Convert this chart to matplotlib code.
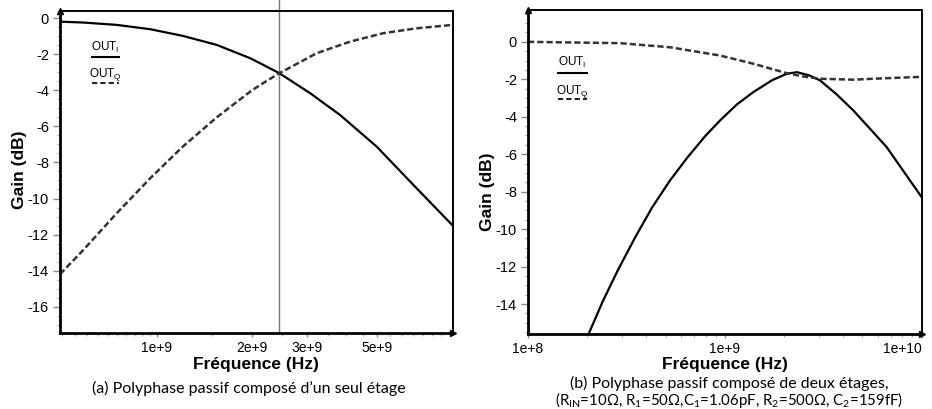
import numpy as np
import matplotlib
matplotlib.use('Agg')
import matplotlib.pyplot as plt
from matplotlib.lines import Line2D
from matplotlib.ticker import FixedLocator, FixedFormatter, LogLocator, NullFormatter, AutoMinorLocator

plt.rcParams['font.family'] = ['Liberation Sans', 'DejaVu Sans']

# (a) single stage polyphase : gain vs frequency
freq_a_i = [4.93e8, 5.85e8, 7.46e8, 9.53e8, 1.21e9, 1.55e9, 1.98e9, 2.13e9, 2.45e9,
            3.07e9, 3.82e9, 4.99e9, 6.53e9, 8.7e9]
gain_a_i = [-0.19, -0.24, -0.37, -0.61, -0.98, -1.48, -2.22, -2.5, -3.05,
            -4.16, -5.37, -7.12, -9.25, -11.5]
freq_a_q = [4.93e8, 5.85e8, 7.46e8, 9.53e8, 1.21e9, 1.55e9, 1.98e9, 2.13e9,
            2.45e9, 3.22e9, 4.11e9, 5.24e9, 6.68e9, 8.7e9]
gain_a_q = [-14.2, -12.85, -10.82, -8.88, -7.12, -5.5, -4.07, -3.7,
            -3.05, -1.94, -1.3, -0.83, -0.56, -0.37]
f_marker_a = 2.45e9
xticks_a = [1e9, 2e9, 3e9, 5e9]
xticklabels_a = ['1e+9', '2e+9', '3e+9', '5e+9']
yticks_a = [0, -2, -4, -6, -8, -10, -12, -14, -16]

# (b) two stage polyphase
freq_b_i = [2.04e8, 2.4e8, 2.86e8, 3.5e8, 4.27e8, 5.27e8, 6.43e8, 7.93e8,
            9.46e8, 1.15e9, 1.39e9, 1.74e9, 2.07e9, 2.33e9, 2.7e9, 3.05e9,
            3.7e9, 4.5e9, 6.64e9, 1e10]
gain_b_i = [-15.56, -13.85, -12.2, -10.45, -8.85, -7.4, -6.2, -5.05,
            -4.2, -3.35, -2.7, -2.05, -1.7, -1.62, -1.8, -2.06,
            -2.8, -3.66, -5.61, -8.28]
freq_b_q = [1e8, 2.93e8, 5.27e8, 9.46e8, 1.4e9, 2.06e9, 2.5e9, 3.05e9,
            4.5e9, 6.64e9, 1e10]
gain_b_q = [0.0, -0.07, -0.29, -0.73, -1.17, -1.67, -1.85, -1.97,
            -2.02, -1.94, -1.87]
xticks_b = [1e8, 1e9, 1e10]
xticklabels_b = ['1e+8', '1e+9', '1e+10']
yticks_b = [0, -2, -4, -6, -8, -10, -12, -14]

W, H = 932, 409


def fx(px):
    return px / W


def fy(py):
    return 1 - py / H


def style_axes(ax):
    for s in ['left', 'bottom']:
        ax.spines[s].set_linewidth(2.0)
    for s in ['top', 'right']:
        ax.spines[s].set_linewidth(1.4)
    ax.tick_params(which='major', direction='out', length=5, width=1,
                   color='#888888', labelsize=10.5, pad=3)
    ax.tick_params(axis='x', which='major', length=3, labelsize=10, pad=3)
    ax.tick_params(which='minor', direction='out', length=2.5, width=0.8,
                   color='#aaaaaa')
    ax.yaxis.set_minor_locator(AutoMinorLocator(4))
    # arrow heads at the end of the axes
    ax.plot(0, 1, marker='^', color='black', markersize=5,
            transform=ax.transAxes, clip_on=False)
    ax.plot(1, 0, marker='>', color='black', markersize=5,
            transform=ax.transAxes, clip_on=False)


def draw_legend(fig, x0, x1, y_i, y_q):
    # text above a short line sample, as in the original
    xc = fx((x0 + x1) / 2)
    fig.text(xc, fy(y_i - 10), r'OUT$_\mathregular{I}$', ha='center',
             va='center', fontsize=8.5)
    fig.add_artist(Line2D([fx(x0), fx(x1)], [fy(y_i), fy(y_i)],
                          color='black', lw=1.5, transform=fig.transFigure))
    fig.text(xc, fy(y_q - 8), r'OUT$_\mathregular{Q}$', ha='center',
             va='center', fontsize=8.5)
    fig.add_artist(Line2D([fx(x0), fx(x1)], [fy(y_q), fy(y_q)],
                          color='#222222', lw=1.5, ls=(0, (2.5, 1.5)),
                          transform=fig.transFigure))


fig = plt.figure(figsize=(W / 100, H / 100), dpi=100)

# ---- panel (a)
ax1 = fig.add_axes([fx(60), fy(333), fx(452.7 - 60), (333 - 11) / H])
ax1.plot(freq_a_i, gain_a_i, color='black', lw=1.6)
ax1.plot(freq_a_q, gain_a_q, color='#333333', lw=1.8, ls=(0, (2.5, 1.2)))
ax1.axvline(f_marker_a, ymin=0, ymax=1.035, color='#777777', lw=1,
            clip_on=False, zorder=0)
ax1.set_xscale('log')
ax1.set_xlim(4.93e8, 8.7e9)
ax1.set_ylim(-17.46, 0.4)
ax1.xaxis.set_major_locator(FixedLocator(xticks_a))
ax1.xaxis.set_major_formatter(FixedFormatter(xticklabels_a))
ax1.xaxis.set_minor_locator(LogLocator(base=10, subs=np.arange(1.0, 10.0, 0.5)))
ax1.xaxis.set_minor_formatter(NullFormatter())
ax1.set_yticks(yticks_a)
ax1.set_yticklabels([str(v) for v in yticks_a])
style_axes(ax1)
ax1.set_ylabel('Gain (dB)', fontsize=12.5, fontweight='bold')
ax1.yaxis.set_label_coords(-0.084, 0.506)
ax1.set_xlabel('Fréquence (Hz)', fontsize=12.5, fontweight='bold')
ax1.xaxis.set_label_coords(0.5, -0.074)

# ---- panel (b)
ax2 = fig.add_axes([fx(528), fy(334), fx(921.5 - 528), (334 - 10) / H])
ax2.plot(freq_b_i, gain_b_i, color='black', lw=1.6)
ax2.plot(freq_b_q, gain_b_q, color='#333333', lw=1.8, ls=(0, (2.5, 1.2)))
ax2.set_xscale('log')
ax2.set_xlim(1e8, 1e10)
ax2.set_ylim(-15.6, 1.7)
ax2.set_xticks(xticks_b, xticklabels_b)
ax2.xaxis.set_minor_locator(LogLocator(base=10, subs=np.arange(2, 10)))
ax2.xaxis.set_minor_formatter(NullFormatter())
ax2.set_yticks(yticks_b)
ax2.set_yticklabels([str(v) for v in yticks_b])
style_axes(ax2)
ax2.get_xticklabels()[-1].set_horizontalalignment('right')
ax2.set_ylabel('Gain (dB)', fontsize=12.5, fontweight='bold')
ax2.yaxis.set_label_coords(-0.084, 0.44)
ax2.set_xlabel('Fréquence (Hz)', fontsize=12.5, fontweight='bold')
ax2.xaxis.set_label_coords(0.5, -0.072)

draw_legend(fig, 92, 119, 57, 83)
draw_legend(fig, 558, 587, 72.7, 99.3)

# captions
cap_font = ['Lato', 'DejaVu Sans']
fig.text(fx(249), fy(388), "(a) Polyphase passif composé d’un seul étage",
         ha='center', va='center', fontsize=11.5, family=cap_font)
fig.text(fx(729), fy(383), "(b) Polyphase passif composé de deux étages,",
         ha='center', va='center', fontsize=11.5, family=cap_font)
fig.text(fx(729), fy(400),
         r"(R$_\mathregular{IN}$=10Ω, R$_\mathregular{1}$=50Ω,C$_\mathregular{1}$=1.06pF, "
         r"R$_\mathregular{2}$=500Ω, C$_\mathregular{2}$=159fF)",
         ha='center', va='center', fontsize=10.8, family=cap_font)

fig.savefig('out.png', dpi=100)
